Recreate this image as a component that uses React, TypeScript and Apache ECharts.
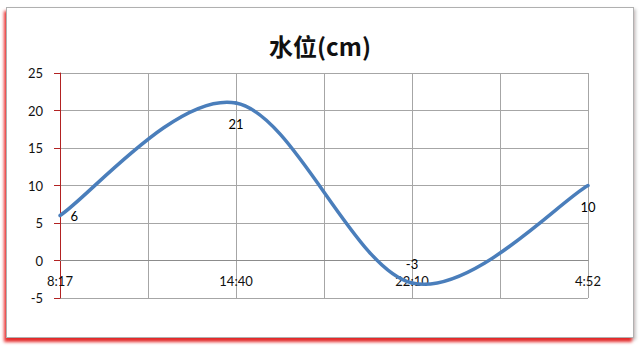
import React, { useEffect, useRef } from "react";
import * as echarts from "echarts";

const times = ["8:17", "14:40", "22:10", "4:52"];
const levels = [6, 21, -3, 10];
const yTicks = { min: -5, max: 25, step: 5 };
const titleText = "水位(cm)";

export default function App() {
  const ref = useRef<HTMLDivElement>(null);
  useEffect(() => {
    if (!ref.current) return;
    const chart = echarts.init(ref.current, undefined, { renderer: "svg" });
    const labelPos = ["right", "bottom", "top", "bottom"];
    const labelDist = [10, 14, 12, 14];
    const points = times.map((t, i) => [i * 2, levels[i]]);
    const labelData = points.map((p, i) => ({
      value: p,
      label: { position: labelPos[i], distance: labelDist[i] },
    }));
    const font = "Lato, 'Open Sans', sans-serif";
    const n = points.length;
    chart.setOption({
      animation: false,
      backgroundColor: "transparent",
      title: {
        text: titleText,
        left: "center",
        top: 33,
        padding: 0,
        textStyle: {
          fontFamily: "'Noto Sans CJK SC', sans-serif",
          fontWeight: "bold",
          fontSize: 24,
          color: "#111",
        },
      },
      grid: { left: 60, right: 52, top: 73, bottom: 49, containLabel: false },
      xAxis: {
        type: "value",
        min: 0,
        max: (times.length - 1) * 2,
        interval: 1,
        offset: -37.5,
        axisLine: { onZero: false, lineStyle: { color: "#8c8c8c", width: 1 } },
        axisTick: { show: false },
        axisLabel: {
          margin: 14,
          fontSize: 13,
          fontFamily: font,
          color: "#111",
          formatter: (v: number) => (v % 2 === 0 ? times[v / 2] ?? "" : ""),
        },
        splitLine: { show: true, lineStyle: { color: "#a6a6a6", width: 1 } },
      },
      yAxis: {
        type: "value",
        min: yTicks.min,
        max: yTicks.max,
        interval: yTicks.step,
        axisLine: { show: true, onZero: false, lineStyle: { color: "#b22222", width: 1 } },
        axisTick: { show: true, length: 6, lineStyle: { color: "#b22222" } },
        axisLabel: { margin: 17, fontSize: 13, fontFamily: font, color: "#111" },
        splitLine: { show: true, lineStyle: { color: "#a6a6a6", width: 1 } },
      },
      series: [
        {
          type: "custom",
          data: points,
          encode: { x: 0, y: 1 },
          clip: false,
          z: 3,
          renderItem: (params: any, api: any) => {
            const i = params.dataIndex;
            if (i >= n - 1) return null;
            const P = (k: number) => api.coord(points[Math.max(0, Math.min(n - 1, k))]);
            const p0 = P(i - 1);
            const p1 = P(i);
            const p2 = P(i + 1);
            const p3 = P(i + 2);
            return {
              type: "bezierCurve",
              shape: {
                x1: p1[0],
                y1: p1[1],
                x2: p2[0],
                y2: p2[1],
                cpx1: p1[0] + (p2[0] - p0[0]) / 6,
                cpy1: p1[1] + (p2[1] - p0[1]) / 6,
                cpx2: p2[0] - (p3[0] - p1[0]) / 6,
                cpy2: p2[1] - (p3[1] - p1[1]) / 6,
              },
              style: { stroke: "#4a7ebb", lineWidth: 3.5, fill: null, lineCap: "round" },
            };
          },
        },
        {
          type: "scatter",
          data: labelData,
          symbolSize: 1,
          itemStyle: { color: "rgba(0,0,0,0)" },
          z: 4,
          label: {
            show: true,
            fontSize: 13,
            fontFamily: font,
            color: "#000",
            opacity: 1,
            formatter: (p: any) => String(p.value[1]),
          },
        },
      ],
    });
    return () => chart.dispose();
  }, []);
  return (
    <div style={{ position: "absolute", left: 0, top: 0, width: 640, height: 347, background: "#fff" }}>
      <div
        style={{
          position: "absolute",
          left: 6,
          top: 7,
          width: 626,
          height: 329,
          border: "1px solid #b0b0b0",
          background: "#fff",
          boxShadow: "-2px 4px 3px rgba(230,0,0,0.8), 2px 2px 3px rgba(120,120,120,0.4)",
        }}
      />
      <div ref={ref} style={{ position: "absolute", left: 0, top: 0, width: 640, height: 347 }} />
    </div>
  );
}
